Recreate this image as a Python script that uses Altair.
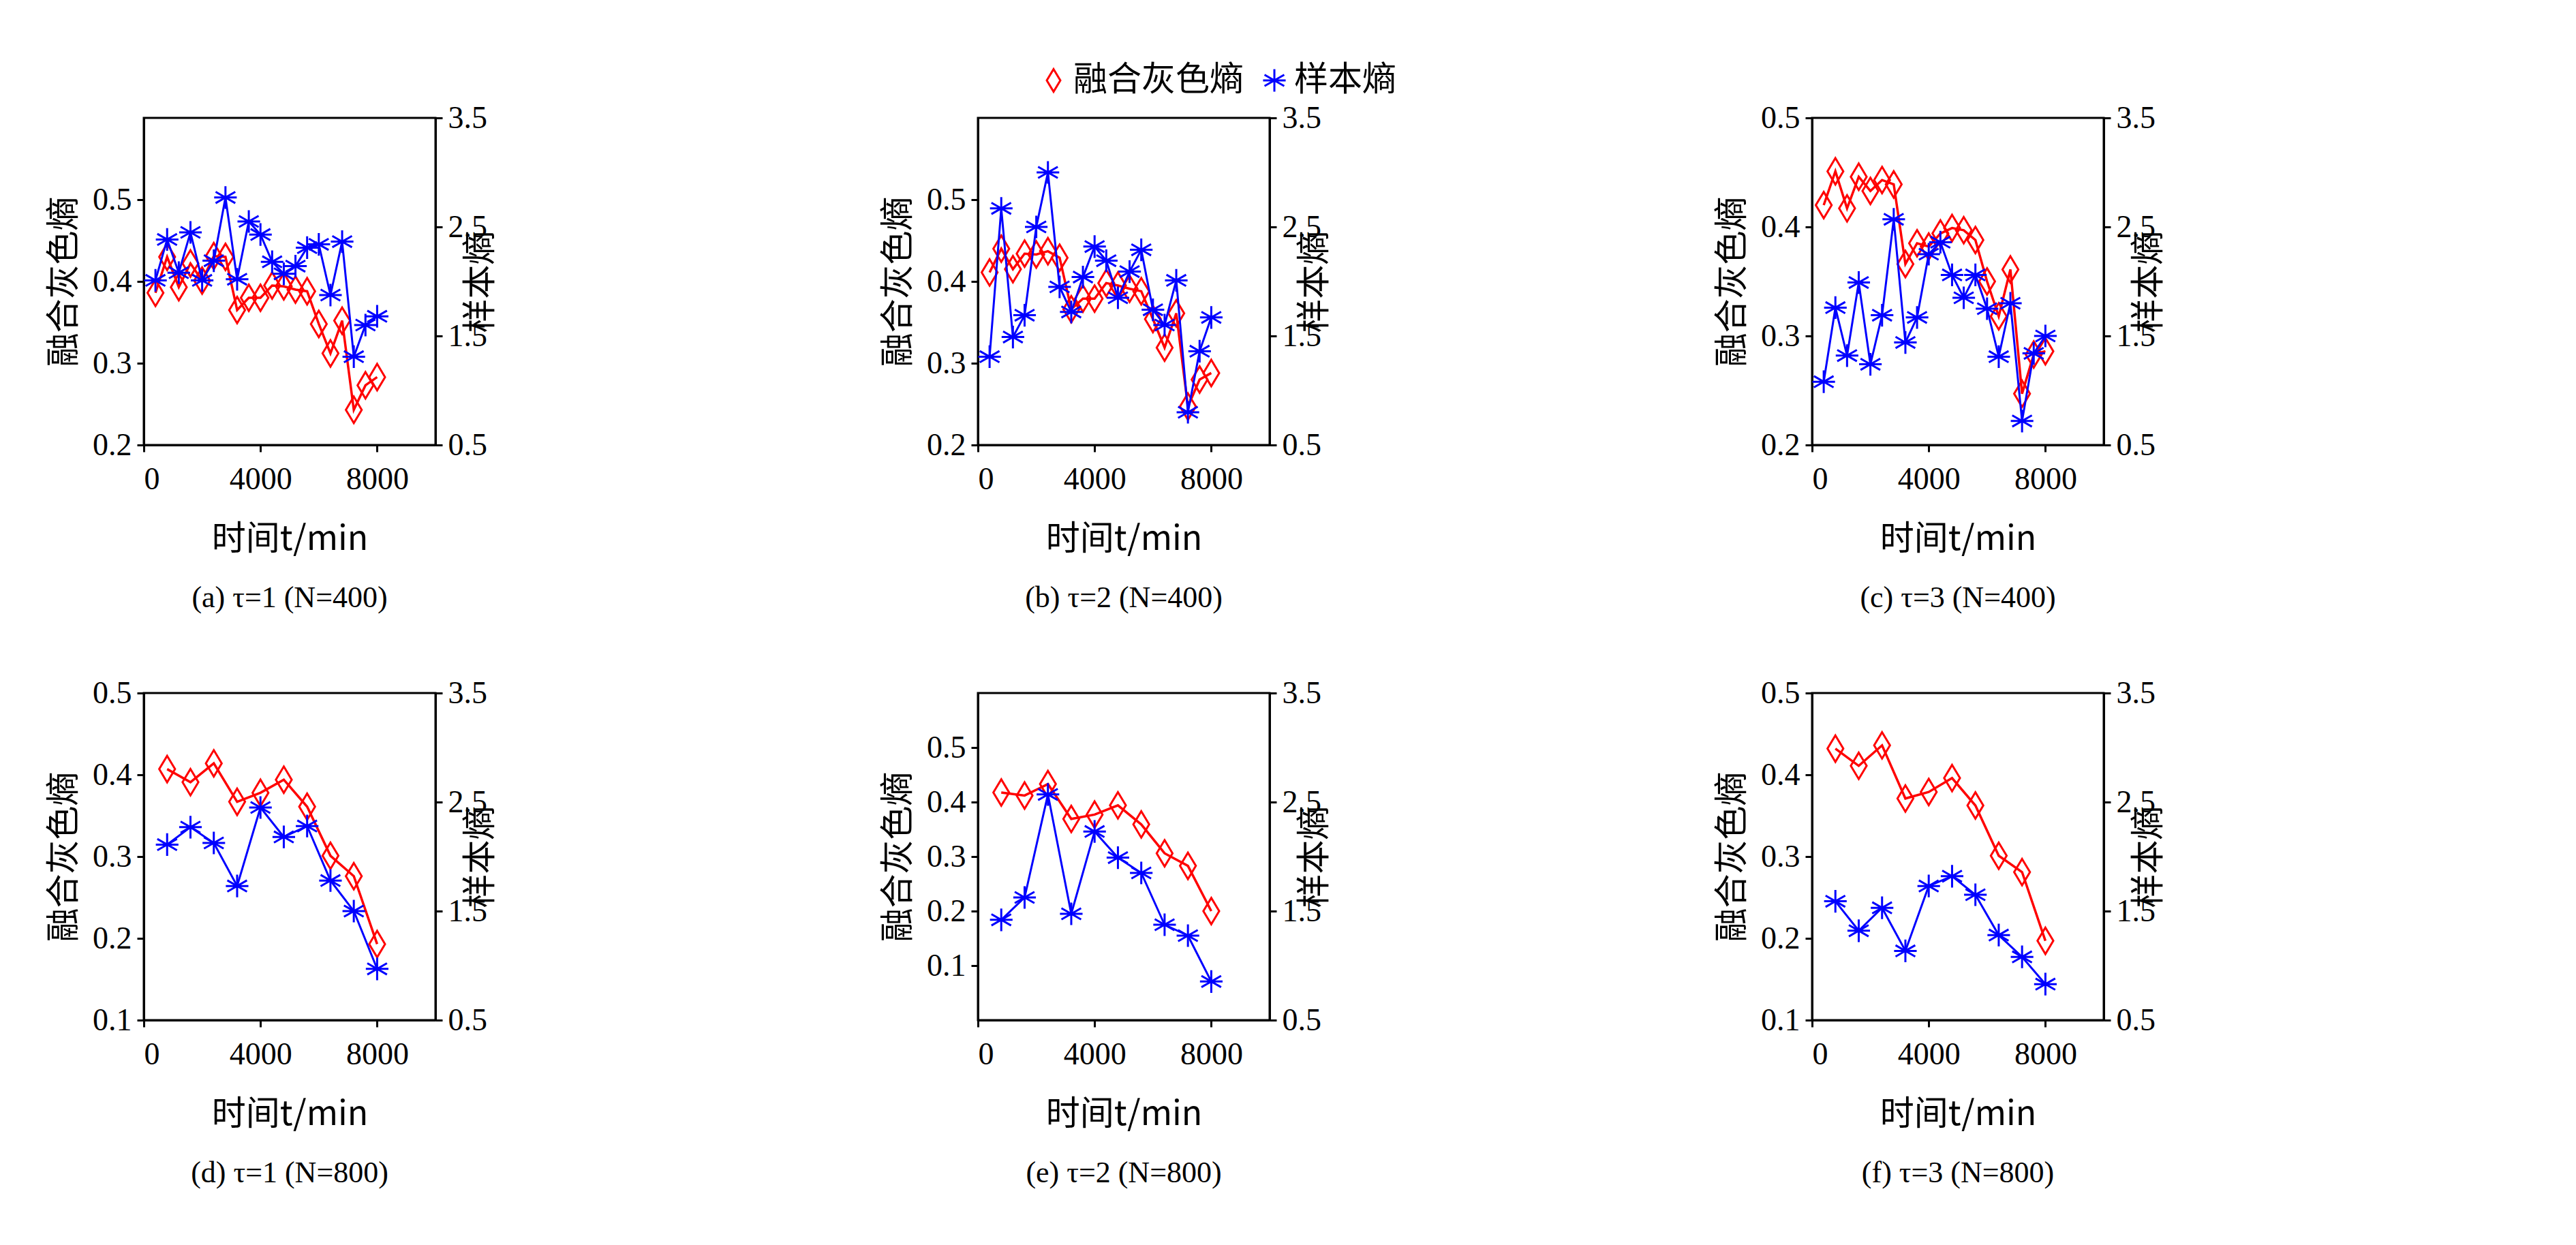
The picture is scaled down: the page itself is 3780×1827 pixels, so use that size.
import altair as alt
import pandas as pd

T20 = [400 * i for i in range(1, 21)]
T10 = [800 * i for i in range(1, 11)]

# 融合灰色熵 (left axis) and 样本熵 (right axis) per panel
grey_a = [0.386, 0.430, 0.393, 0.422, 0.401, 0.431, 0.430, 0.365, 0.380, 0.380,
          0.395, 0.394, 0.390, 0.388, 0.348, 0.312, 0.352, 0.243, 0.273, 0.283]
samp_a = [2.01, 2.385, 2.08, 2.45, 2.01, 2.19, 2.77, 2.02, 2.55, 2.43,
          2.18, 2.07, 2.14, 2.31, 2.34, 1.875, 2.365, 1.31, 1.60, 1.68]
grey_b = [0.411, 0.440, 0.415, 0.434, 0.433, 0.437, 0.429, 0.366, 0.379, 0.379,
          0.398, 0.395, 0.391, 0.388, 0.354, 0.319, 0.361, 0.247, 0.280, 0.288]
samp_b = [1.31, 2.67, 1.49, 1.69, 2.50, 3.00, 1.95, 1.72, 2.04, 2.32,
          2.19, 1.85, 2.09, 2.29, 1.74, 1.60, 2.01, 0.80, 1.36, 1.67]
grey_c = [0.420, 0.451, 0.417, 0.446, 0.433, 0.443, 0.439, 0.366, 0.385, 0.382,
          0.394, 0.399, 0.397, 0.388, 0.350, 0.318, 0.361, 0.247, 0.283, 0.286]
samp_c = [1.08, 1.76, 1.32, 1.99, 1.24, 1.69, 2.57, 1.44, 1.67, 2.25,
          2.36, 2.06, 1.85, 2.06, 1.75, 1.31, 1.80, 0.72, 1.34, 1.50]
grey_d = [0.407, 0.391, 0.414, 0.367, 0.378, 0.394, 0.361, 0.301, 0.276, 0.193]
samp_d = [2.11, 2.27, 2.125, 1.73, 2.45, 2.18, 2.28, 1.78, 1.50, 0.97]
grey_e = [0.4175, 0.412, 0.433, 0.369, 0.377, 0.394, 0.359, 0.306, 0.283, 0.200]
samp_e = [1.42, 1.625, 2.57, 1.475, 2.23, 1.99, 1.85, 1.375, 1.275, 0.854]
grey_f = [0.432, 0.411, 0.436, 0.371, 0.379, 0.396, 0.3625, 0.301, 0.281, 0.197]
samp_f = [1.59, 1.32, 1.53, 1.135, 1.73, 1.82, 1.65, 1.28, 1.08, 0.83]

captions = ["(a) τ=1 (N=400)", "(b) τ=2 (N=400)", "(c) τ=3 (N=400)",
            "(d) τ=1 (N=800)", "(e) τ=2 (N=800)", "(f) τ=3 (N=800)"]
left_domains = [[0.2, 0.6], [0.2, 0.6], [0.2, 0.5], [0.1, 0.5], [0.0, 0.6], [0.1, 0.5]]
left_ticks = [[0.2, 0.3, 0.4, 0.5]] * 3 + [[0.1, 0.2, 0.3, 0.4, 0.5]] * 3

SERIES = ["融合灰色熵", "样本熵"]
RED, BLUE = "#ff0000", "#0000ff"
DIAMOND = "M0,-1L0.6,0L0,1L-0.6,0Z"
STAR = "M0,-1L0,1M-0.87,-0.5L0.87,0.5M-0.87,0.5L0.87,-0.5M-1,0L1,0"
FONT = "Liberation Serif"
CJK = "Noto Sans CJK SC"

color_scale = alt.Scale(domain=SERIES, range=[RED, BLUE])
shape_scale = alt.Scale(domain=SERIES, range=[DIAMOND, STAR])

x_enc = alt.X("t:Q", title="时间t/min",
              scale=alt.Scale(domain=[0, 10000], nice=False),
              axis=alt.Axis(values=[0, 4000, 8000], grid=False, format="d",
                            labelPadding=18, titlePadding=40))


def panel(t, grey, samp, cap, ldom, lticks):
    g = pd.DataFrame({"t": t, "v": grey, "series": SERIES[0]})
    s = pd.DataFrame({"t": t, "v": samp, "series": SERIES[1]})
    color = alt.Color("series:N", scale=color_scale, title=None)
    shape = alt.Shape("series:N", scale=shape_scale, title=None)
    yl = alt.Y("v:Q", title="融合灰色熵", scale=alt.Scale(domain=ldom, nice=False, zero=False),
               axis=alt.Axis(values=lticks, grid=False, format=".1f", orient="left"))
    yr = alt.Y("v:Q", title="样本熵", scale=alt.Scale(domain=[0.5, 3.5], nice=False, zero=False),
               axis=alt.Axis(values=[0.5, 1.5, 2.5, 3.5], grid=False, format=".1f",
                             orient="right", titleAngle=270))
    gl = alt.Chart(g).mark_line(color=RED, strokeWidth=3.5).encode(x=x_enc, y=yl)
    gp = alt.Chart(g).mark_point(filled=False, strokeWidth=3, size=1500, opacity=1).encode(
        x=x_enc, y=yl, color=color, shape=shape)
    sl = alt.Chart(s).mark_line(color=BLUE, strokeWidth=3).encode(x=x_enc, y=yr)
    sp = alt.Chart(s).mark_point(filled=False, strokeWidth=3, size=1100, opacity=1).encode(
        x=x_enc, y=yr, color=color, shape=shape)
    return alt.layer(alt.layer(gl, gp), alt.layer(sl, sp)).resolve_scale(
        y="independent").properties(
        width=428, height=480,
        title=alt.TitleParams(cap, orient="bottom", fontSize=44, font=FONT,
                              fontWeight="normal", offset=40))


data = [(T20, grey_a, samp_a), (T20, grey_b, samp_b), (T20, grey_c, samp_c),
        (T10, grey_d, samp_d), (T10, grey_e, samp_e), (T10, grey_f, samp_f)]
panels = [panel(t, g, s, captions[i], left_domains[i], left_ticks[i])
          for i, (t, g, s) in enumerate(data)]

row1 = alt.hconcat(*panels[:3], spacing=560)
row2 = alt.hconcat(*panels[3:], spacing=560)
chart = alt.vconcat(row1, row2, spacing=90).properties(
    padding={"left": 60, "top": 85, "right": 20, "bottom": 10}
).configure_view(stroke="black", strokeWidth=3).configure_axis(
    labelFont=FONT, labelFontSize=46, labelColor="black",
    titleFont=CJK, titleFontSize=50, titleFontWeight="normal",
    titleColor="black", domainColor="black", domainWidth=3, tickColor="black",
    tickWidth=3, tickSize=10, labelPadding=8, titlePadding=16
).configure_legend(
    orient="none", legendX=1310, legendY=-80, direction="horizontal",
    labelFont=CJK, labelFontSize=50, labelLimit=0, symbolSize=1100,
    symbolStrokeWidth=3, columnPadding=20, labelOffset=4, labelColor="black", padding=0
)

chart.save("out.html", embed_options={"renderer": "svg", "actions": False})
